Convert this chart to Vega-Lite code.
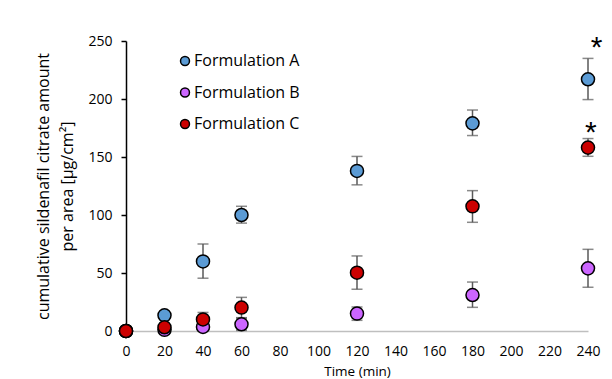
{
  "$schema": "https://vega.github.io/schema/vega-lite/v6.json",
  "autosize": {"type": "none"},
  "width": 462,
  "height": 290,
  "padding": {"left": 126, "top": 41, "right": 24, "bottom": 48},
  "background": "white",
  "config": {
    "font": "Open Sans",
    "view": {"stroke": null},
    "axis": {"grid": false, "labelColor": "#000000", "titleColor": "#000000", "labelFontSize": 14, "titleFontWeight": "normal", "labelOverlap": false, "labelFlush": false},
    "axisX": {"ticks": false, "domain": true, "domainColor": "#BFBFBF", "domainWidth": 1.5, "labelPadding": 13, "titleFontSize": 13.5, "titlePadding": 6},
    "axisY": {"ticks": true, "domain": true, "domainColor": "#000000", "domainWidth": 1.5, "tickColor": "#000000", "tickWidth": 1.5, "tickSize": 5, "labelPadding": 9, "titleFontSize": 16, "titleLineHeight": 24, "titlePadding": 12}
  },
  "datasets": {
    "main": [
      {"Time": 0, "Formulation": "Formulation A", "value": 0, "lo": 0, "hi": 0},
      {"Time": 20, "Formulation": "Formulation A", "value": 13.5, "lo": 12, "hi": 15},
      {"Time": 40, "Formulation": "Formulation A", "value": 60, "lo": 45.5, "hi": 75},
      {"Time": 60, "Formulation": "Formulation A", "value": 100, "lo": 93, "hi": 107.5},
      {"Time": 120, "Formulation": "Formulation A", "value": 138, "lo": 126, "hi": 150.5},
      {"Time": 180, "Formulation": "Formulation A", "value": 179, "lo": 168.5, "hi": 190.5},
      {"Time": 240, "Formulation": "Formulation A", "value": 217, "lo": 199.5, "hi": 235},
      {"Time": 0, "Formulation": "Formulation B", "value": 0, "lo": 0, "hi": 0},
      {"Time": 20, "Formulation": "Formulation B", "value": 1, "lo": 0, "hi": 2},
      {"Time": 40, "Formulation": "Formulation B", "value": 3.5, "lo": 1, "hi": 6},
      {"Time": 60, "Formulation": "Formulation B", "value": 5.8, "lo": 0.5, "hi": 11},
      {"Time": 120, "Formulation": "Formulation B", "value": 15, "lo": 9.2, "hi": 20.7},
      {"Time": 180, "Formulation": "Formulation B", "value": 31, "lo": 20.4, "hi": 42.2},
      {"Time": 240, "Formulation": "Formulation B", "value": 54, "lo": 37.7, "hi": 70.4},
      {"Time": 0, "Formulation": "Formulation C", "value": 0, "lo": 0, "hi": 0},
      {"Time": 20, "Formulation": "Formulation C", "value": 3.2, "lo": 1, "hi": 5.5},
      {"Time": 40, "Formulation": "Formulation C", "value": 10, "lo": 4, "hi": 16},
      {"Time": 60, "Formulation": "Formulation C", "value": 20.2, "lo": 11.5, "hi": 29},
      {"Time": 120, "Formulation": "Formulation C", "value": 50.3, "lo": 36, "hi": 64.7},
      {"Time": 180, "Formulation": "Formulation C", "value": 107.5, "lo": 93.7, "hi": 121},
      {"Time": 240, "Formulation": "Formulation C", "value": 158.1, "lo": 150.6, "hi": 165.9}
    ],
    "stars": [
      {"Time": 244.5, "level": 250, "label": "*"},
      {"Time": 241.5, "level": 176.5, "label": "*"}
    ]
  },
  "data": {"name": "main"},
  "encoding": {
    "x": {"field": "Time", "type": "quantitative", "scale": {"domain": [0, 240], "nice": false},
      "axis": {"values": [0,20,40,60,80,100,120,140,160,180,200,220,240], "title": "Time (min)"}}
  },
  "layer": [
    {
      "mark": {"type": "rule", "color": "#595959", "strokeWidth": 1.5},
      "encoding": {
        "y": {"field": "lo", "type": "quantitative", "scale": {"domain": [0, 250], "nice": false},
          "axis": {"values": [0,50,100,150,200,250],
            "title": ["cumulative sildenafil citrate amount", "per area [µg/cm²]"]}},
        "y2": {"field": "hi"}
      }
    },
    {
      "mark": {"type": "tick", "color": "#595959", "thickness": 1.5, "size": 11, "orient": "horizontal"},
      "encoding": {
        "y": {"field": "lo", "type": "quantitative"}
      }
    },
    {
      "mark": {"type": "tick", "color": "#595959", "thickness": 1.5, "size": 11, "orient": "horizontal"},
      "encoding": {
        "y": {"field": "hi", "type": "quantitative"}
      }
    },
    {
      "mark": {"type": "point", "shape": "circle", "filled": true, "size": 170, "stroke": "#000000", "strokeWidth": 1.5, "opacity": 1},
      "encoding": {
        "y": {"field": "value", "type": "quantitative"},
        "color": {"field": "Formulation", "type": "nominal",
          "scale": {"domain": ["Formulation A", "Formulation B", "Formulation C"], "range": ["#5B9BD5", "#CC66FF", "#CC0000"]},
          "legend": {"title": null, "orient": "none", "legendX": 51, "legendY": 12, "padding": 0,
            "labelFontSize": 16, "labelColor": "#000000", "labelOffset": 1, "rowPadding": 15.5,
            "symbolSize": 80, "symbolStrokeColor": "#000000", "symbolStrokeWidth": 1.5, "symbolType": "circle"}}
      }
    },
    {
      "data": {"name": "stars"},
      "mark": {"type": "text", "fontSize": 30, "font": "Liberation Sans", "baseline": "middle", "align": "center", "dy": 7, "color": "#000000"},
      "encoding": {
        "y": {"field": "level", "type": "quantitative"},
        "text": {"field": "label"}
      }
    }
  ]
}
